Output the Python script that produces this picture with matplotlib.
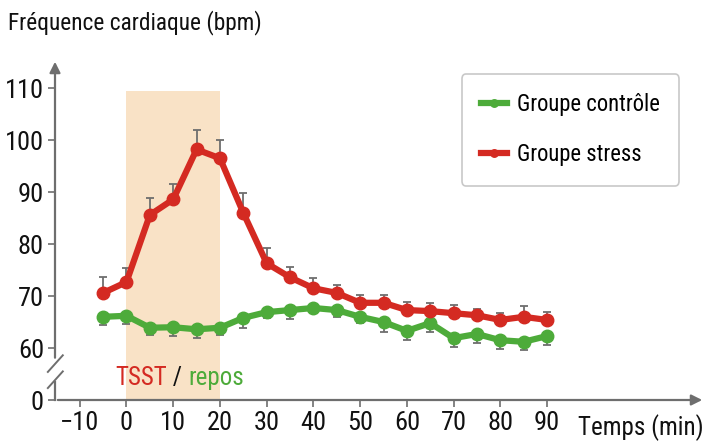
import numpy as np
import matplotlib
matplotlib.use("Agg")
import matplotlib.pyplot as plt
from matplotlib.patches import Rectangle

plt.rcParams['font.family'] = ['Liberation Sans Narrow', 'DejaVu Sans Condensed', 'Roboto Condensed', 'Lato', 'DejaVu Sans']
plt.rcParams['font.stretch'] = 'condensed'

# données (temps en min, fréquence en bpm)
temps = [-5, 0, 5, 10, 15, 20, 25, 30, 35, 40, 45, 50, 55, 60, 65, 70, 75, 80, 85, 90]
stress = [70.6, 72.7, 85.6, 88.6, 98.2, 96.5, 86.0, 76.3, 73.6, 71.5, 70.6, 68.7, 68.7, 67.3,
          67.1, 66.7, 66.3, 65.4, 66.0, 65.4]
stress_err = [3.0, 2.7, 3.2, 2.9, 3.8, 3.5, 3.8, 2.9, 2.0, 2.0, 1.6, 1.5, 1.5, 1.5,
              1.5, 1.5, 1.3, 1.3, 2.0, 1.5]
controle = [66.0, 66.2, 63.9, 64.0, 63.6, 63.9, 65.8, 66.9, 67.3, 67.7, 67.3, 66.0, 65.0, 63.3,
            64.8, 61.9, 62.7, 61.5, 61.2, 62.3]
controle_err = [1.5, 1.5, 1.4, 1.7, 1.7, 1.4, 1.9, 1.2, 1.7, 1.0, 1.3, 1.2, 1.9, 1.7,
                1.7, 1.7, 1.7, 1.7, 1.5, 1.7]
xticks = [-10, 0, 10, 20, 30, 40, 50, 60, 70, 80, 90]
yticks = [50, 60, 70, 80, 90, 100, 110]
yticklabels = ['0', '60', '70', '80', '90', '100', '110']

rouge = '#d42a22'
vert = '#4dab3a'
gris = '#6e6e6e'

fig = plt.figure(figsize=(7.1, 4.43), dpi=100)
ax = fig.add_axes([55/710, 43/443, 650/710, 341/443])
ax.set_xlim(-15.3, 123.8)
ax.set_ylim(50, 115.6)

# zone TSST
ax.add_patch(Rectangle((0, 50), 20, 59.5, facecolor='#f9e2c6', edgecolor='none', zorder=0))

# barres d'erreur
ax.errorbar(temps, stress, yerr=[np.zeros(len(stress)), stress_err], fmt='none',
            ecolor=gris, elinewidth=1.3, capsize=3.2, capthick=1.3, zorder=2)
ax.errorbar(temps, controle, yerr=[controle_err, np.zeros(len(controle))], fmt='none',
            ecolor=gris, elinewidth=1.3, capsize=3.2, capthick=1.3, zorder=2)

# courbes
ax.plot(temps, controle, color=vert, lw=4.5, marker='o', ms=9, zorder=3, label='Groupe contrôle')
ax.plot(temps, stress, color=rouge, lw=4.5, marker='o', ms=9, zorder=4, label='Groupe stress')

# axes
for s in ax.spines.values():
    s.set_visible(False)
ax.set_xticks(xticks)
ax.set_yticks(yticks)
ax.set_yticklabels(yticklabels)
ax.tick_params(axis='both', colors=gris, length=5, width=1.2, labelsize=19, labelcolor='#111111', pad=3)

bt = ax.get_yaxis_transform()
ax.plot([0, 0], [50, 53.5], color=gris, lw=1.6, transform=bt, clip_on=False)
ax.annotate('', xy=(0, 1), xycoords='axes fraction', xytext=(0, 57.6), textcoords=bt,
            arrowprops=dict(arrowstyle='-|>', color=gris, lw=1.6, mutation_scale=16))
ax.annotate('', xy=(1, 0), xycoords='axes fraction', xytext=(0, 0), textcoords='axes fraction',
            arrowprops=dict(arrowstyle='-|>', color=gris, lw=1.6, mutation_scale=16))
# cassure de l'axe
for y0 in [52.3, 55.4]:
    ax.plot([-0.011, 0.012], [y0, y0 + 3.2], color=gris, lw=1.4, transform=bt, clip_on=False)

# textes
fig.text(8/710, 1 - 23/443, 'Fréquence cardiaque (bpm)', fontsize=16.8, va='center', ha='left', color='#111111')
ax.text(578/710, 1 - 428/443, 'Temps (min)', fontsize=18, va='center', ha='left',
        color='#111111', transform=fig.transFigure)
t1 = ax.text(-2.3, 54.3, 'TSST', color=rouge, fontsize=18, va='center', ha='left')
t2 = ax.annotate(' / ', xycoords=t1, xy=(1, 0.5), va='center', ha='left', fontsize=18, color='#111111')
ax.annotate('repos', xycoords=t2, xy=(1, 0.5), va='center', ha='left', fontsize=18, color=vert)

leg = ax.legend(loc='upper left', bbox_to_anchor=(0.626, 0.956), fontsize=16.3, frameon=True,
                fancybox=True, edgecolor='#bbbbbb', handlelength=1.15, markerscale=0.6,
                borderpad=0.85, labelspacing=1.2, handletextpad=0.45, borderaxespad=0)
leg.get_frame().set_linewidth(1.2)

plt.savefig('out.png', dpi=100)
